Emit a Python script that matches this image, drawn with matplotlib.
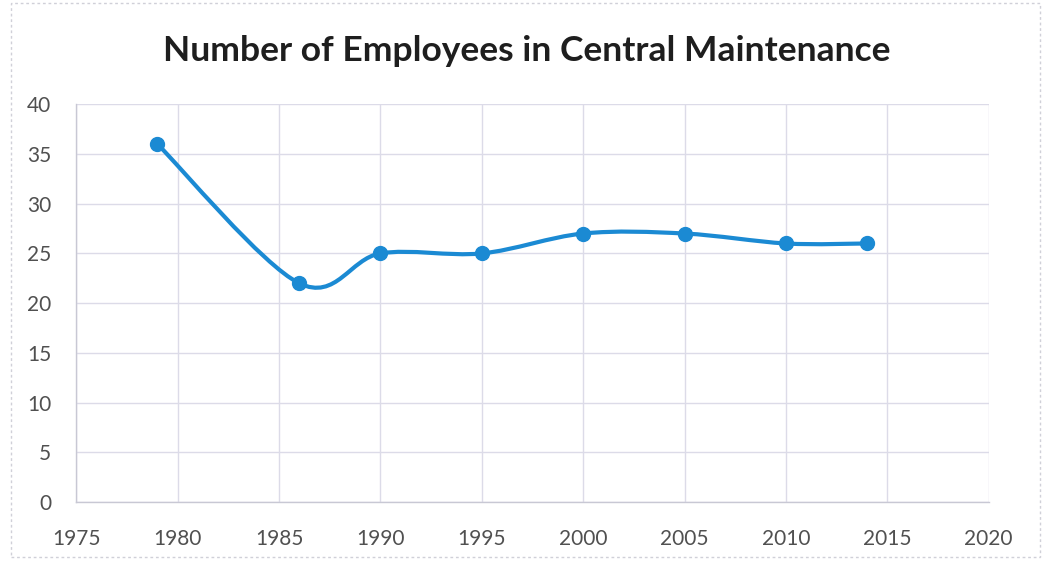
import matplotlib
matplotlib.use("Agg")
import matplotlib.pyplot as plt
from matplotlib.path import Path
from matplotlib.patches import PathPatch, Rectangle
import numpy as np

plt.rcParams['font.family'] = ['Lato', 'DejaVu Sans']

# data
years = [1979, 1986, 1990, 1995, 2000, 2005, 2010, 2014]
employees = [36, 22, 25, 25, 27, 27, 26, 26]
x_ticks = [1975, 1980, 1985, 1990, 1995, 2000, 2005, 2010, 2015, 2020]
y_ticks = [0, 5, 10, 15, 20, 25, 30, 35, 40]
title = "Number of Employees in Central Maintenance"

blue = "#1b8ad3"
grid_col = "#dcdbe8"
text_col = "#505050"

fig = plt.figure(figsize=(10.44, 5.63), dpi=100)
ax = fig.add_axes([0.073, 0.108, 0.874, 0.707])

# smoothed line like Excel (Catmull-Rom as cubic bezier)
pts = np.column_stack([years, employees]).astype(float)
verts = [tuple(pts[0])]
codes = [Path.MOVETO]
n = len(pts)
for i in range(n - 1):
    p0 = pts[i - 1] if i > 0 else pts[i]
    p1 = pts[i]
    p2 = pts[i + 1]
    p3 = pts[i + 2] if i + 2 < n else pts[i + 1]
    c1 = p1 + (p2 - p0) / 6.0
    c2 = p2 - (p3 - p1) / 6.0
    verts += [tuple(c1), tuple(c2), tuple(p2)]
    codes += [Path.CURVE4] * 3
ax.add_patch(PathPatch(Path(verts, codes), fill=False, edgecolor=blue,
                       lw=3.0, capstyle='round', joinstyle='round', zorder=3))
ax.plot(years, employees, ls='none', marker='o', ms=10, color=blue, zorder=4)

ax.set_xlim(1975, 2020)
ax.set_ylim(0, 40)
ax.set_xticks(x_ticks)
ax.set_yticks(y_ticks)
ax.grid(True, color=grid_col, lw=1.0)
ax.set_axisbelow(True)
for s in ['top', 'right']:
    ax.spines[s].set_visible(False)
for s in ['left', 'bottom']:
    ax.spines[s].set_color("#c8c8d4")
    ax.spines[s].set_linewidth(1.0)
ax.tick_params(length=0, labelsize=15, colors=text_col)
ax.tick_params(axis='x', pad=19)
ax.tick_params(axis='y', pad=18)

fig.text(0.505, 0.91, title, ha='center', va='center', fontsize=25.5,
         fontweight='bold', color="#1e1e1e")

# chart border
fig.add_artist(Rectangle((0.011, 0.01), 0.985, 0.985, transform=fig.transFigure,
                         fill=False, edgecolor="#d0d0d8", lw=1.0, ls=(0, (2, 2))))

fig.savefig("out.png", dpi=100)
